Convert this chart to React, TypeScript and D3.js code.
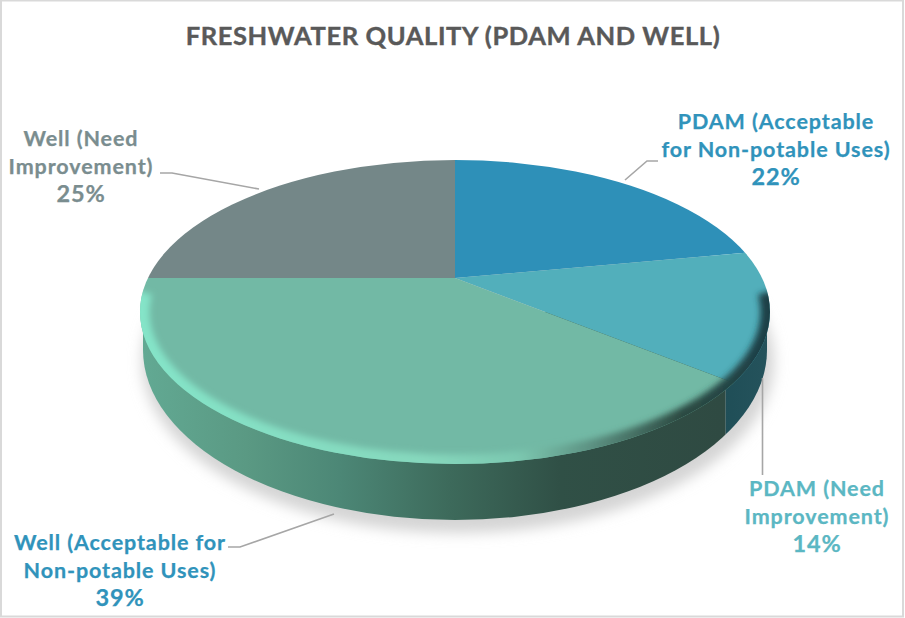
import React from "react";
import * as d3 from "d3";

const titleText = "FRESHWATER QUALITY (PDAM AND WELL)";
const categories = [
  "PDAM (Acceptable for Non-potable Uses)",
  "PDAM (Need Improvement)",
  "Well (Acceptable for Non-potable Uses)",
  "Well (Need Improvement)",
];
const shares = [22, 14, 39, 25];
const labelLines = [
  ["PDAM (Acceptable", "for Non-potable Uses)", "22%"],
  ["PDAM (Need", "Improvement)", "14%"],
  ["Well (Acceptable for", "Non-potable Uses)", "39%"],
  ["Well (Need", "Improvement)", "25%"],
];
const faceColors = ["#2e90b8", "#52afbb", "#72b9a5", "#748788"];
const labelColors = ["#3093bb", "#5bb7c3", "#3093bb", "#7a8d8f"];
const labelAnchors = [
  [776, 129],
  [817, 496],
  [120, 550],
  [81, 146],
];
const leaders = [
  [[658, 161], [647, 161], [625, 180]],
  [[762.5, 378], [762.5, 475]],
  [[228, 547], [240, 547], [334, 514]],
  [[160, 173], [172, 173], [259, 189]],
];

const apex = { x: 455, y: 278 };
const face = { cx: 455, cy: 312, rx: 315, ry: 152 };
const base = { cx: 455, cy: 350, rx: 312, ry: 170 };
const tilt = 0.455;
const bevelInset = 8;
const font = "Lato, 'Open Sans', sans-serif";

function rimX(angle: number) {
  const dx = Math.sin(angle);
  const dy = -tilt * Math.cos(angle);
  const oy = apex.y - face.cy;
  const A = (dx * dx) / (face.rx * face.rx) + (dy * dy) / (face.ry * face.ry);
  const B = (2 * oy * dy) / (face.ry * face.ry);
  const C = (oy * oy) / (face.ry * face.ry) - 1;
  const t = (-B + Math.sqrt(B * B - 4 * A * C)) / (2 * A);
  return apex.x + t * dx;
}

export default function App() {
  const pie = d3.pie<number>().sort(null)(shares);
  const arc = d3.arc<d3.PieArcDatum<number>>().innerRadius(0).outerRadius(1000);
  const line = d3.line();
  const splitX = rimX(pie[1].endAngle) - bevelInset;
  const bodyPath =
    `M${base.cx - base.rx},${face.cy} L${base.cx - base.rx},${base.cy} ` +
    `A${base.rx},${base.ry} 0 0 0 ${base.cx + base.rx},${base.cy} L${base.cx + base.rx},${face.cy} Z`;
  const rise = 20;
  const rimDx = face.rx * Math.sqrt(1 - (rise / face.ry) ** 2);
  const rimPath =
    `M${face.cx - rimDx},${face.cy - rise} ` +
    `A${face.rx},${face.ry} 0 1 0 ${face.cx + rimDx},${face.cy - rise}`;

  return (
    <svg
      width={905}
      height={618}
      viewBox="0 0 905 618"
      style={{ position: "absolute", left: 0, top: 0, background: "#fff" }}
    >
      <defs>
        <linearGradient id="sideGreen" gradientUnits="userSpaceOnUse" x1={143} x2={722} y1={0} y2={0}>
          <stop offset="0" stopColor="#62a993" />
          <stop offset="0.18" stopColor="#5a9983" />
          <stop offset="0.34" stopColor="#4c8776" />
          <stop offset="0.53" stopColor="#3d6a5b" />
          <stop offset="0.72" stopColor="#305046" />
          <stop offset="1" stopColor="#2f4a42" />
        </linearGradient>
        <linearGradient id="sideTeal" gradientUnits="userSpaceOnUse" x1={722} x2={770} y1={0} y2={0}>
          <stop offset="0" stopColor="#1f4e57" />
          <stop offset="1" stopColor="#25535c" />
        </linearGradient>
        <linearGradient id="rimGrad" gradientUnits="userSpaceOnUse" x1={140} x2={770} y1={0} y2={0}>
          <stop offset="0" stopColor="#84e4c8" />
          <stop offset="0.45" stopColor="#86d8bd" />
          <stop offset="0.6" stopColor="#7cc8b0" />
          <stop offset="0.72" stopColor="#5b8f80" />
          <stop offset="0.86" stopColor="#2c4a42" />
          <stop offset="1" stopColor="#1c3f47" />
        </linearGradient>
        <filter id="soft" x="-10%" y="-10%" width="120%" height="120%">
          <feGaussianBlur stdDeviation="7" />
        </filter>
        <filter id="softRim" x="-5%" y="-10%" width="110%" height="120%">
          <feGaussianBlur stdDeviation="3.2" />
        </filter>
        <clipPath id="faceClip">
          <ellipse cx={face.cx} cy={face.cy} rx={face.rx} ry={face.ry} />
        </clipPath>
        <clipPath id="bodyClip">
          <path d={bodyPath} />
        </clipPath>
      </defs>

      <rect x={1} y={0.5} width={902} height={616} fill="#fff" stroke="#d9d9d9" strokeWidth={2} />

      <ellipse cx={458} cy={361} rx={316} ry={172} fill="#d4d4d4" filter="url(#soft)" />

      <g clipPath="url(#bodyClip)">
        <rect x={130} y={300} width={splitX - 130} height={230} fill="url(#sideGreen)" />
        <rect x={splitX} y={300} width={780 - splitX} height={230} fill="url(#sideTeal)" />
      </g>

      <g clipPath="url(#faceClip)">
        <g transform={`translate(${apex.x},${apex.y}) scale(0.62,${0.62 * tilt})`}>
          {pie.map((d, i) => (
            <path key={categories[i]} d={arc(d) ?? ""} fill={faceColors[i]} />
          ))}
        </g>
        <path d={rimPath} fill="none" stroke="url(#rimGrad)" strokeWidth={19} filter="url(#softRim)" />
      </g>

      {leaders.map((pts, i) => (
        <path
          key={i}
          d={line(pts as [number, number][]) ?? ""}
          fill="none"
          stroke="#a6a6a6"
          strokeWidth={1.6}
        />
      ))}

      <text
        x={453}
        y={45}
        textAnchor="middle"
        fontFamily={font}
        fontWeight={700}
        fontSize={25.5}
        letterSpacing={0.6}
        fill="#595959"
        stroke="#595959"
        strokeWidth={0.4}
      >
        {titleText}
      </text>

      {labelLines.map((lines, i) => (
        <text
          key={categories[i]}
          textAnchor="middle"
          fontFamily={font}
          fontWeight={700}
          fontSize={21.5}
          letterSpacing={0.9}
          fill={labelColors[i]}
          stroke={labelColors[i]}
          strokeWidth={0.25}
        >
          {lines.map((t, j) => (
            <tspan
              key={j}
              x={labelAnchors[i][0]}
              y={labelAnchors[i][1] + j * 28}
              fontSize={j === 2 ? 23.5 : 21.5}
            >
              {t}
            </tspan>
          ))}
        </text>
      ))}
    </svg>
  );
}
